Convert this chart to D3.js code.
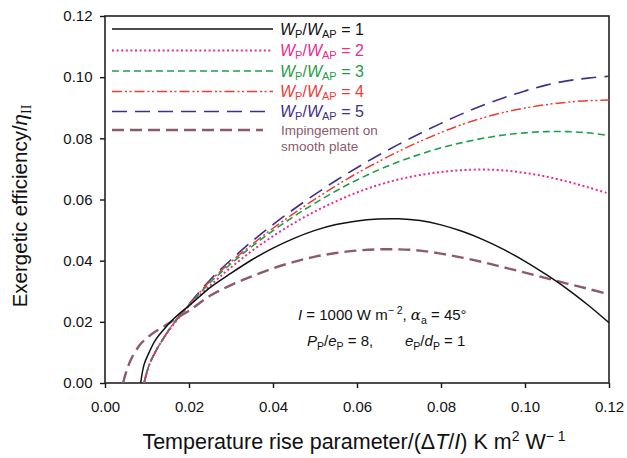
<!DOCTYPE html>
<html><head><meta charset="utf-8">
<script src="https://cdn.jsdelivr.net/npm/d3@7"></script>
<style>
body{margin:0;background:#fff;}
text{font-family:"Liberation Sans",Arial,Helvetica,sans-serif;}
</style></head>
<body>
<svg id="chart" width="627" height="458"></svg>
<script>
// ---- data ----
const xValues = [0.0043, 0.0052, 0.0065, 0.0085, 0.0093, 0.0105, 0.012, 0.014, 0.016, 0.018, 0.020,
  0.025, 0.030, 0.035, 0.040, 0.045, 0.050, 0.055, 0.060, 0.065, 0.070, 0.075, 0.080, 0.085,
  0.090, 0.095, 0.100, 0.105, 0.110, 0.115, 0.120];
const ratio1 = [null, null, null, 0, 0.0060, 0.0100, 0.0140, 0.0175, 0.0205, 0.0230, 0.0252,
  0.0312, 0.0359, 0.0403, 0.0441, 0.0473, 0.0499, 0.0518, 0.0530, 0.0536, 0.0537, 0.0531, 0.0517, 0.0496,
  0.0469, 0.0436, 0.0398, 0.0355, 0.0308, 0.0255, 0.0197];
const ratio2 = [null, null, null, null, 0, 0.0058, 0.0102, 0.0147, 0.0186, 0.0220, 0.0252,
  0.0318, 0.0378, 0.0432, 0.0480, 0.0523, 0.0561, 0.0594, 0.0623, 0.0647, 0.0666, 0.0680, 0.0690, 0.0696,
  0.0698, 0.0695, 0.0687, 0.0675, 0.0659, 0.0640, 0.0619];
const ratio3 = [null, null, null, null, 0, 0.0058, 0.0102, 0.0148, 0.0188, 0.0222, 0.0255,
  0.0328, 0.0390, 0.0447, 0.0498, 0.0545, 0.0588, 0.0628, 0.0664, 0.0696, 0.0724, 0.0748, 0.0769, 0.0786,
  0.0800, 0.0811, 0.0818, 0.0822, 0.0822, 0.0818, 0.0809];
const ratio4 = [null, null, null, null, 0, 0.0058, 0.0102, 0.0148, 0.0189, 0.0223, 0.0256,
  0.0333, 0.0396, 0.0453, 0.0506, 0.0555, 0.0601, 0.0645, 0.0686, 0.0723, 0.0758, 0.0790, 0.0819, 0.0845,
  0.0867, 0.0885, 0.0899, 0.0910, 0.0918, 0.0923, 0.0925];
const ratio5 = [null, null, null, null, 0, 0.0058, 0.0102, 0.0148, 0.0189, 0.0224, 0.0258,
  0.0337, 0.0403, 0.0463, 0.0518, 0.0569, 0.0617, 0.0662, 0.0704, 0.0744, 0.0781, 0.0816, 0.0849, 0.0880,
  0.0908, 0.0933, 0.0955, 0.0974, 0.0988, 0.0997, 0.1003];
const impingement = [0, 0.0043, 0.0086, 0.0128, 0.0139, 0.0153, 0.0168, 0.0185, 0.0203, 0.0220, 0.0236,
  0.0285, 0.0320, 0.0349, 0.0375, 0.0396, 0.0413, 0.0425, 0.0433, 0.0437, 0.0437, 0.0433, 0.0423, 0.0410,
  0.0395, 0.0378, 0.0361, 0.0343, 0.0325, 0.0308, 0.0290];
const seriesLabels = ["1", "2", "3", "4", "5", "Impingement on smooth plate"];
const xTicks = [0, 0.02, 0.04, 0.06, 0.08, 0.10, 0.12];
const yTicks = [0, 0.02, 0.04, 0.06, 0.08, 0.10, 0.12];

const series = [
  {vals: ratio1, color: "#111111", dash: null, width: 1.5, label: seriesLabels[0]},
  {vals: ratio2, color: "#ec2a8f", dash: "2,2.6", width: 2, label: seriesLabels[1]},
  {vals: ratio3, color: "#1e9e48", dash: "7,4", width: 1.6, label: seriesLabels[2]},
  {vals: ratio4, color: "#ee3b36", dash: "10,3,2,2.5,2,3", width: 1.5, label: seriesLabels[3]},
  {vals: ratio5, color: "#3f2e8c", dash: "15,8", width: 1.6, label: seriesLabels[4]},
  {vals: impingement, color: "#8b5b6c", dash: "12,6", width: 2.4, label: seriesLabels[5]}
];

const svg = d3.select("#chart");
const L = 105, R = 609, T = 16, B = 383;
const x = d3.scaleLinear().domain([0, 0.12]).range([L, R]);
const y = d3.scaleLinear().domain([0, 0.12]).range([B, T]);

// axes
const xAxis = d3.axisBottom(x).tickValues(xTicks).tickFormat(d3.format(".2f")).tickSize(5).tickSizeOuter(0);
const yAxis = d3.axisLeft(y).tickValues(yTicks).tickFormat(d3.format(".2f")).tickSize(5).tickSizeOuter(0);
const gx = svg.append("g").attr("transform", `translate(0,${B})`).call(xAxis);
const gy = svg.append("g").attr("transform", `translate(${L},0)`).call(yAxis);
[gx, gy].forEach(g => {
  g.select(".domain").remove();
  g.selectAll(".tick line").attr("stroke", "#111").attr("stroke-width", 1.4);
  g.selectAll(".tick text").attr("font-size", 15).attr("fill", "#111")
   .attr("font-family", "'Liberation Sans',Arial,sans-serif");
});
gx.selectAll(".tick text").attr("dy", "1.4em");
gy.selectAll(".tick text").attr("dx", "-0.3em");

// frame
svg.append("rect").attr("x", L).attr("y", T).attr("width", R - L).attr("height", B - T)
  .attr("fill", "none").attr("stroke", "#222").attr("stroke-width", 1.6);

// curves
const line = d3.line()
  .defined(d => d[1] !== null)
  .x(d => x(d[0])).y(d => y(d[1]))
  .curve(d3.curveCatmullRom.alpha(0.5));
svg.append("clipPath").attr("id", "clp").append("rect")
  .attr("x", L).attr("y", T).attr("width", R - L).attr("height", B - T);
series.slice().reverse().forEach(s => {
  const pts = xValues.map((xv, i) => [xv, s.vals[i]]);
  svg.append("path").attr("d", line(pts)).attr("fill", "none")
    .attr("stroke", s.color).attr("stroke-width", s.width)
    .attr("stroke-dasharray", s.dash).attr("clip-path", "url(#clp)");
});

// legend
const legY = [29, 50.5, 71, 91.5, 111.5, 130];
series.forEach((s, i) => {
  const x2 = i === 5 ? 263 : 273;
  svg.append("line").attr("x1", 112).attr("x2", x2).attr("y1", legY[i]).attr("y2", legY[i])
    .attr("stroke", s.color).attr("stroke-width", s.width).attr("stroke-dasharray", s.dash);
  if (i < 5) {
    const t = svg.append("text").attr("x", 280).attr("y", legY[i] + 5.5).attr("font-size", 16).attr("fill", s.color);
    t.append("tspan").attr("font-style", "italic").text("W");
    t.append("tspan").attr("font-size", 11).attr("dy", 3).text("P");
    t.append("tspan").attr("dy", -3).text("/");
    t.append("tspan").attr("font-style", "italic").text("W");
    t.append("tspan").attr("font-size", 11).attr("dy", 3).text("AP");
    t.append("tspan").attr("dy", -3).text(" = " + s.label);
  } else {
    const words = s.label.split(" ");
    svg.append("text").attr("x", 281).attr("y", legY[i] + 4.5).attr("font-size", 13.5).attr("fill", s.color)
      .text(words.slice(0, 2).join(" "));
    svg.append("text").attr("x", 281).attr("y", legY[i] + 21).attr("font-size", 13.5).attr("fill", s.color)
      .text(words.slice(2).join(" "));
  }
});

// annotation
const a1 = svg.append("text").attr("x", 298).attr("y", 320).attr("font-size", 15).attr("fill", "#111");
a1.append("tspan").attr("font-style", "italic").text("I");
a1.append("tspan").text(" = 1000 W m");
a1.append("tspan").attr("font-size", 10.5).attr("dy", -6).text("− 2");
a1.append("tspan").attr("dy", 6).text(",  ");
a1.append("tspan").attr("font-style", "italic").attr("font-family", "'DejaVu Serif',serif").text("α");
a1.append("tspan").attr("font-size", 10.5).attr("dy", 4).text("a");
a1.append("tspan").attr("dy", -4).text(" = 45°");
const a2 = svg.append("text").attr("x", 307).attr("y", 346).attr("font-size", 15).attr("fill", "#111");
a2.append("tspan").attr("font-style", "italic").text("P");
a2.append("tspan").attr("font-size", 10.5).attr("dy", 4).text("P");
a2.append("tspan").attr("dy", -4).text("/");
a2.append("tspan").attr("font-style", "italic").text("e");
a2.append("tspan").attr("font-size", 10.5).attr("dy", 4).text("P");
a2.append("tspan").attr("dy", -4).text(" = 8,");
const a3 = svg.append("text").attr("x", 405).attr("y", 346).attr("font-size", 15).attr("fill", "#111");
a3.append("tspan").attr("font-style", "italic").text("e");
a3.append("tspan").attr("font-size", 10.5).attr("dy", 4).text("P");
a3.append("tspan").attr("dy", -4).text("/");
a3.append("tspan").attr("font-style", "italic").text("d");
a3.append("tspan").attr("font-size", 10.5).attr("dy", 4).text("P");
a3.append("tspan").attr("dy", -4).text(" = 1");

// axis titles
const xt = svg.append("text").attr("x", 354).attr("y", 449).attr("text-anchor", "middle")
  .attr("font-size", 21.5).attr("fill", "#111");
xt.append("tspan").text("Temperature rise parameter/(Δ");
xt.append("tspan").attr("font-style", "italic").text("T");
xt.append("tspan").text("/");
xt.append("tspan").attr("font-style", "italic").text("I");
xt.append("tspan").text(") K m");
xt.append("tspan").attr("font-size", 14).attr("dy", -8).text("2");
xt.append("tspan").attr("dy", 8).text(" W");
xt.append("tspan").attr("font-size", 14).attr("dy", -8).text("− 1");

const yt = svg.append("text").attr("transform", "translate(27,206) rotate(-90)").attr("text-anchor", "middle")
  .attr("font-size", 20.5).attr("fill", "#111");
yt.append("tspan").text("Exergetic efficiency/");
yt.append("tspan").attr("font-style", "italic").text("η");
yt.append("tspan").attr("font-size", 14).attr("dy", 4).attr("font-family", "'Liberation Serif',serif").text("II");
</script>
</body></html>
